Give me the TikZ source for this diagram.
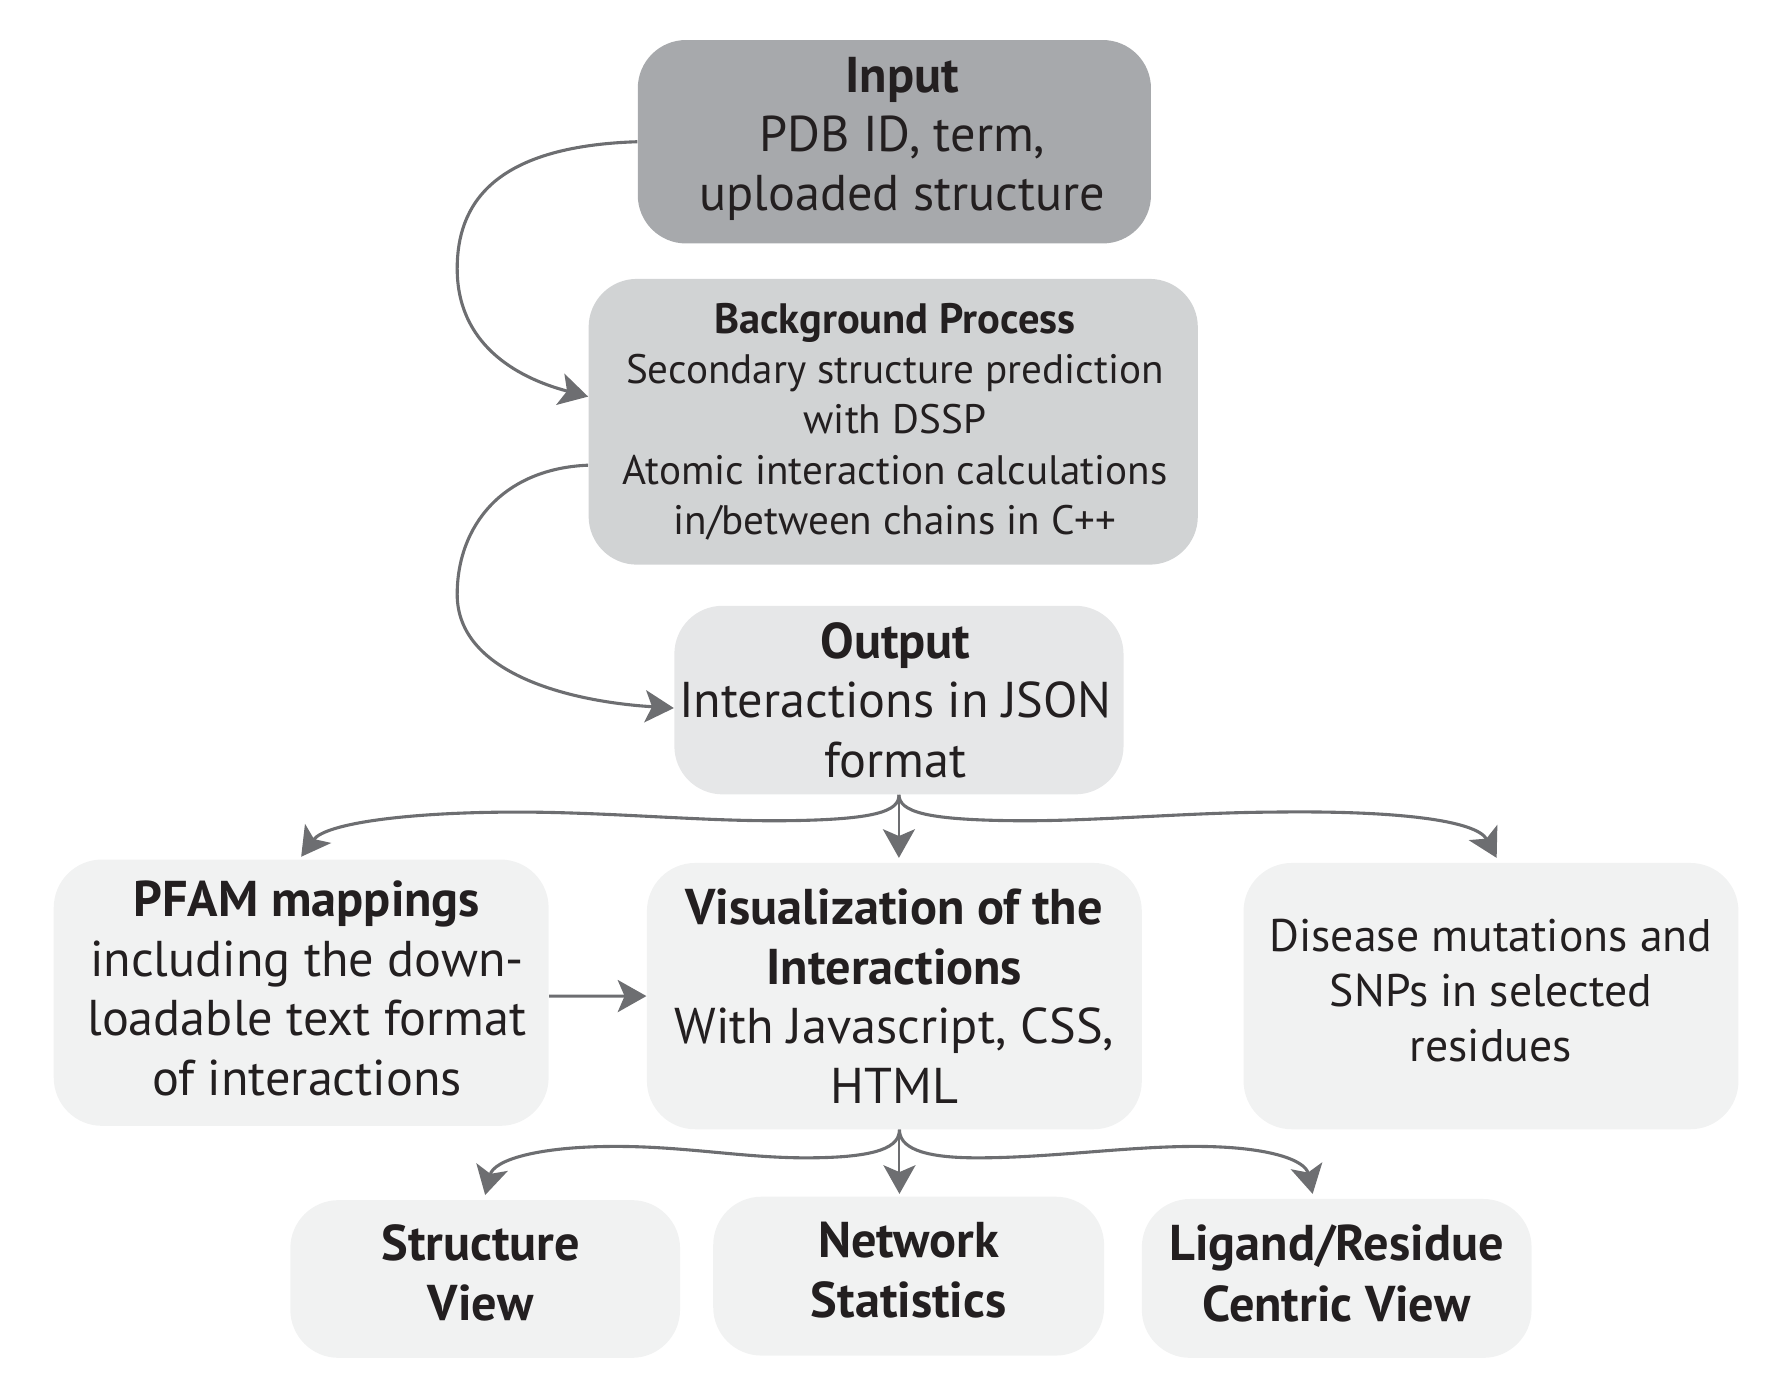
\documentclass[tikz,border=0pt]{standalone}
\usepackage{fontspec}
\setmainfont{PT Sans}
\usetikzlibrary{arrows.meta,calc}
\definecolor{cin}{HTML}{A7A9AC}
\definecolor{cbg}{HTML}{D1D3D4}
\definecolor{cout}{HTML}{E6E7E8}
\definecolor{clight}{HTML}{F1F2F2}
\definecolor{carr}{HTML}{6D6E71}
\definecolor{ctext}{HTML}{231F20}
\tikzset{
  box/.style={rounded corners=21pt, inner sep=0pt, draw=none},
  txt/.style={align=center, inner sep=0pt, text=ctext},
  big/.style={font=\fontsize{22}{26}\selectfont},
  tip/.style={-{Stealth[length=12.5pt,width=14pt,inset=3pt]}},
  arr/.style={draw=carr, line width=1.35pt, tip},
  stem/.style={draw=carr, line width=0.9pt, tip},
}
\begin{document}
\begin{tikzpicture}[x=0.5pt,y=-0.5pt]
\useasboundingbox (0,0) rectangle (1560,1212);
\begin{scope}[scale=0.995, transform shape]
% boxes
\node[box,fill=cin,minimum width=224.5pt,minimum height=89pt] (input) at (782.5,124) {};
\node[box,fill=cbg,minimum width=266.5pt,minimum height=125pt] (bg) at (781.5,369) {};
\node[box,fill=cout,minimum width=196.5pt,minimum height=82.5pt] (out) at (786.5,612.5) {};
\node[box,fill=clight,minimum width=216.5pt,minimum height=116.5pt] (pfam) at (263.5,868.5) {};
\node[box,fill=clight,minimum width=216.5pt,minimum height=116.5pt] (vis) at (782.5,871.5) {};
\node[box,fill=clight,minimum width=216.5pt,minimum height=116.5pt] (dis) at (1304.5,871.5) {};
\node[box,fill=clight,minimum width=170.5pt,minimum height=69pt] (sv) at (424.5,1119) {};
\node[box,fill=clight,minimum width=171pt,minimum height=69.5pt] (ns) at (795,1116.5) {};
\node[box,fill=clight,minimum width=170.5pt,minimum height=69.5pt] (lr) at (1169.5,1118.5) {};
% texts
\node[txt,big] (inputt) at ($(input.center)+(7,-2.5)$)
  {\textbf{Input}\\PDB ID, term,\\uploaded structure};
\node[txt,font=\fontsize{18}{22}\selectfont] (bgt) at ($(bg.center)+(1.5,0)$)
  {{\fontsize{18.6}{22}\selectfont\textbf{Background Process}}\\Secondary structure prediction\\with DSSP\\Atomic interaction calculations\\in/between chains in C++};
\node[txt,big] (outt) at ($(out.center)+(-3,0)$)
  {\textbf{Output}\\Interactions in JSON\\format};
\node[txt,big] (pfamt) at ($(pfam.center)+(5,-3.7)$)
  {\textbf{PFAM mappings}\\including the down-\\loadable text format\\of interactions};
\node[txt,big] (vist) at (vis.center)
  {\textbf{Visualization of the}\\\textbf{Interactions}\\With Javascript, CSS,\\HTML};
\node[txt,font=\fontsize{20}{24}\selectfont] (dist) at ($(dis.center)+(0,-4.6)$)
  {Disease mutations and\\SNPs in selected\\residues};
\node[txt,font=\fontsize{22}{26.5}\selectfont\bfseries] (svt) at ($(sv.center)+(-4,-5.4)$)
  {Structure\\View};
\node[txt,font=\fontsize{22}{26.5}\selectfont\bfseries] (nst) at ($(ns.center)+(0,-5.4)$)
  {Network\\Statistics};
\node[txt,font=\fontsize{22}{26.5}\selectfont\bfseries] (lrt) at ($(lr.center)+(0,-4.4)$)
  {Ligand/Residue\\Centric View};
% branch points
\coordinate (vb) at ($(vis.south)+(4.5,0)$);
% connectors
\draw[arr] (input.west) .. controls (430,128) and (400,180) .. (400,235)
  .. controls (400,300) and (450,330) .. ($(bg.west)+(0,-22)$);
\draw[arr] ($(bg.west)+(0,38)$) .. controls (440,410) and (400,460) .. (400,520)
  .. controls (400,590) and (500,614) .. ($(out.west)+(0,7)$);
\draw[stem] (out.south) -- ($(out.south |- vis.north)+(0,-4)$);
\draw[arr] (out.south) .. controls (787,710) and (765,717) .. (690,718)
  .. controls (620,719) and (540,711) .. (460,710.5)
  .. controls (360,710) and (285,720) .. ($(pfam.north)+(0,-2)$);
\draw[arr] (out.south) .. controls (787,710) and (809,717) .. (884,718)
  .. controls (954,719) and (1034,711) .. (1114,710.5)
  .. controls (1224,709) and (1292,718) .. ($(dis.north)+(5,-4)$);
\draw[arr] ($(pfam.east)+(0,3)$) -- (vis.west);
\draw[stem] (vb) -- ($(vb |- ns.north)+(0,-2)$);
\draw[arr] (vb) .. controls (787,1003) and (770,1013) .. (705,1013)
  .. controls (650,1013) and (600,1003) .. (539,1003)
  .. controls (470,1003) and (432,1015) .. ($(sv.north)+(0,-4)$);
\draw[arr] (vb) .. controls (787,1003) and (804,1013) .. (855,1013)
  .. controls (920,1013) and (985,1003) .. (1046,1003)
  .. controls (1110,1003) and (1142,1015) .. ($(lr.north)+(-21,-4)$);
\end{scope}
\end{tikzpicture}
\end{document}
